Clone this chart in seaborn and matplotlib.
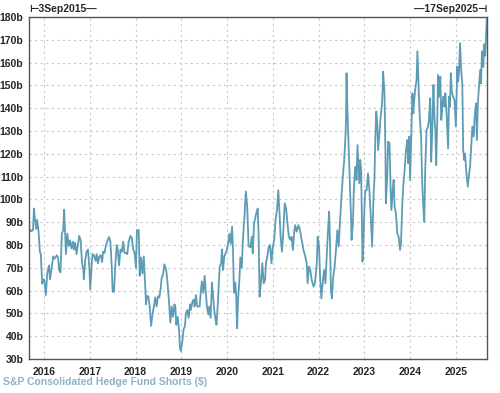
import numpy as np
import pandas as pd
import matplotlib
matplotlib.use("Agg")
import matplotlib.pyplot as plt
import seaborn as sns

# decimal-year positions and values (billions $)
years = [
    2015.672, 2015.72, 2015.76, 2015.78, 2015.80, 2015.83, 2015.85, 2015.88, 2015.91, 2015.93,
    2015.96, 2015.99, 2016.01, 2016.04, 2016.07, 2016.11, 2016.13, 2016.16, 2016.20, 2016.23,
    2016.28, 2016.31, 2016.33, 2016.36, 2016.39, 2016.42, 2016.44, 2016.46, 2016.48, 2016.51,
    2016.54, 2016.57, 2016.60, 2016.63, 2016.65, 2016.68, 2016.71, 2016.74, 2016.77, 2016.80,
    2016.83, 2016.86, 2016.87, 2016.90, 2016.93, 2016.96, 2016.99, 2017.01, 2017.04, 2017.06,
    2017.09, 2017.13, 2017.15, 2017.18, 2017.21, 2017.24, 2017.27, 2017.29, 2017.32, 2017.35,
    2017.38, 2017.42, 2017.45, 2017.48, 2017.50, 2017.53, 2017.56, 2017.59, 2017.61, 2017.64,
    2017.67, 2017.70, 2017.73, 2017.76, 2017.79, 2017.82, 2017.85, 2017.89, 2017.92, 2017.95,
    2017.98, 2018.01, 2018.03, 2018.07, 2018.09, 2018.12, 2018.15, 2018.18, 2018.20, 2018.23,
    2018.25, 2018.28, 2018.31, 2018.34, 2018.37, 2018.40, 2018.43, 2018.46, 2018.49, 2018.52,
    2018.55, 2018.57, 2018.60, 2018.63, 2018.67, 2018.69, 2018.71, 2018.73, 2018.76, 2018.79,
    2018.82, 2018.85, 2018.87, 2018.89, 2018.92, 2018.95, 2018.97, 2018.99, 2019.02, 2019.05,
    2019.08, 2019.10, 2019.13, 2019.16, 2019.19, 2019.21, 2019.24, 2019.27, 2019.29, 2019.32,
    2019.35, 2019.37, 2019.40, 2019.43, 2019.45, 2019.48, 2019.51, 2019.53, 2019.56, 2019.59,
    2019.61, 2019.64, 2019.67, 2019.69, 2019.72, 2019.75, 2019.77, 2019.80, 2019.82, 2019.84,
    2019.87, 2019.89, 2019.91, 2019.94, 2019.97, 2020.00, 2020.03, 2020.05, 2020.08, 2020.11,
    2020.13, 2020.15, 2020.18, 2020.20, 2020.22, 2020.24, 2020.27, 2020.29, 2020.32, 2020.35,
    2020.38, 2020.41, 2020.44, 2020.47, 2020.51, 2020.54, 2020.56, 2020.59, 2020.64, 2020.67,
    2020.69, 2020.71, 2020.74, 2020.77, 2020.80, 2020.83, 2020.85, 2020.88, 2020.91, 2020.94,
    2020.97, 2021.00, 2021.03, 2021.06, 2021.09, 2021.12, 2021.15, 2021.17, 2021.20, 2021.23,
    2021.26, 2021.29, 2021.32, 2021.35, 2021.38, 2021.41, 2021.44, 2021.47, 2021.49, 2021.52,
    2021.56, 2021.60, 2021.63, 2021.67, 2021.71, 2021.74, 2021.76, 2021.79, 2021.82, 2021.85,
    2021.89, 2021.92, 2021.96, 2021.98, 2022.01, 2022.03, 2022.06, 2022.09, 2022.12, 2022.15,
    2022.18, 2022.21, 2022.23, 2022.25, 2022.27, 2022.29, 2022.32, 2022.35, 2022.38, 2022.41,
    2022.44, 2022.47, 2022.50, 2022.53, 2022.56, 2022.59, 2022.60, 2022.61, 2022.63, 2022.65,
    2022.67, 2022.69, 2022.71, 2022.72, 2022.75, 2022.77, 2022.80, 2022.83, 2022.85, 2022.87,
    2022.89, 2022.91, 2022.93, 2022.96, 2022.98, 2023.00, 2023.02, 2023.05, 2023.08, 2023.11,
    2023.14, 2023.17, 2023.20, 2023.22, 2023.24, 2023.26, 2023.28, 2023.30, 2023.33, 2023.35,
    2023.38, 2023.40, 2023.41, 2023.44, 2023.46, 2023.47, 2023.50, 2023.52, 2023.55, 2023.57,
    2023.59, 2023.62, 2023.64, 2023.66, 2023.69, 2023.72, 2023.75, 2023.78, 2023.80, 2023.83,
    2023.85, 2023.88, 2023.91, 2023.94, 2023.96, 2023.98, 2024.00, 2024.03, 2024.05, 2024.07,
    2024.09, 2024.11, 2024.14, 2024.16, 2024.19, 2024.21, 2024.24, 2024.26, 2024.28, 2024.31,
    2024.33, 2024.36, 2024.39, 2024.41, 2024.44, 2024.46, 2024.48, 2024.51, 2024.53, 2024.55,
    2024.57, 2024.59, 2024.61, 2024.64, 2024.66, 2024.68, 2024.70, 2024.72, 2024.75, 2024.77,
    2024.80, 2024.83, 2024.85, 2024.87, 2024.89, 2024.91, 2024.94, 2024.97, 2025.00, 2025.03,
    2025.05, 2025.07, 2025.09, 2025.12, 2025.14, 2025.16, 2025.18, 2025.20, 2025.23, 2025.26,
    2025.29, 2025.31, 2025.34, 2025.36, 2025.39, 2025.41, 2025.44, 2025.46, 2025.48, 2025.51,
    2025.53, 2025.55, 2025.57, 2025.60, 2025.62, 2025.64, 2025.66, 2025.68,
]
shorts_bn = [
    87.5, 86, 86.5, 96, 92, 87, 91, 86, 77, 76,
    63, 65, 64, 58, 67.5, 71, 65, 69, 75, 74,
    75.5, 74, 69, 68, 85, 86.5, 95.5, 86, 76, 85,
    79.5, 82, 78.5, 81.5, 78, 81, 76, 80, 84, 82,
    72.5, 69, 65, 73.5, 77, 78, 70.5, 60.5, 70.5, 76,
    75.5, 73, 76, 72, 75, 75.5, 72.5, 77, 76.5, 79.5,
    81.5, 83.5, 81.5, 70.5, 59.5, 59.5, 72, 80, 78, 71,
    78, 77, 81.5, 76.5, 76.5, 76, 81.5, 84, 83, 78,
    76.5, 70, 86.5, 86.5, 66.5, 74.5, 67.5, 75, 66.5, 54,
    57.5, 57.5, 53, 44.5, 49.5, 53, 57, 53, 57.5, 57,
    61, 65.5, 67, 71.5, 69, 65.5, 60.5, 55.5, 46, 53,
    48.5, 54, 53, 45, 48.5, 43, 35, 33.5, 37.5, 43,
    44.5, 50, 51.5, 48, 54, 51.5, 55, 56, 53, 58,
    53, 53, 53, 60.5, 64, 59, 66.5, 60.5, 53, 49.5,
    53, 48, 63.5, 59, 51.5, 47, 45, 55, 63.5, 70.5,
    72, 78, 69, 75, 76.5, 78, 81.5, 85, 80.5, 88,
    78, 59, 63.5, 57.5, 43.5, 56, 65, 74.5, 70, 83.5,
    92.5, 103.5, 97, 79.5, 79, 83.6, 76.3, 89.5, 94, 96,
    83.6, 57.3, 63.2, 72, 63.2, 64.6, 72, 74.9, 79.3, 80,
    72, 79.3, 82.2, 91, 95.3, 104, 92.4, 83.6, 77, 86.5,
    98.2, 96, 89.5, 83.6, 82.2, 83.6, 77.8, 86.5, 88.7, 85.8,
    88.7, 85.8, 82.2, 77.8, 74.9, 72, 63.2, 70.5, 69, 64.6,
    61.7, 63.2, 72, 83.6, 79.3, 67.5, 56.6, 63.2, 69, 63.2,
    76.3, 88, 94.6, 80.7, 60.2, 56.6, 66, 70.5, 77.8, 86.5,
    79.3, 91, 101.2, 110, 117.3, 129, 136.3, 155.3, 139.2, 127.5,
    115.8, 104, 91, 82.2, 89.5, 104, 114.3, 108.5, 123.8, 115.8,
    107, 117.3, 112.9, 72.7, 82.2, 95.3, 104, 104, 111.4, 104,
    92.4, 79.3, 101.2, 108.5, 127.5, 138.5, 134, 121.6, 129, 134.8,
    140.6, 148, 156, 146.5, 121.6, 98.2, 110, 125.3, 124.6, 107,
    95.3, 104, 108.5, 96.8, 93.9, 85, 83.6, 77.8, 80.7, 98.2,
    105.6, 112.9, 121.6, 126, 115.8, 127.5, 108.5, 131.9, 146.5, 137.7,
    143.6, 148, 152.3, 165, 146.5, 136.3, 127.5, 110, 99.7, 90.2,
    112.9, 130.4, 131.9, 134.8, 144.3, 116.5, 127.5, 150.2, 136.3, 130.4,
    115, 131.9, 154.5, 145, 153.8, 134.8, 139.2, 145, 140.6, 146.5,
    136.3, 122.4, 145, 140.6, 155.3, 147.2, 145, 143.6, 131.9, 158.2,
    151.6, 156.7, 168.5, 155.3, 150.9, 121.6, 117.3, 120.1, 111.4, 105.6,
    111.4, 114.3, 124.6, 131.9, 127.5, 136.3, 142.1, 126, 142.1, 150.9,
    156.7, 150.9, 165, 158, 168, 163, 172, 181,
]
year_ticks = [2016, 2017, 2018, 2019, 2020, 2021, 2022, 2023, 2024, 2025]
value_ticks = [30, 40, 50, 60, 70, 80, 90, 100, 110, 120, 130, 140, 150, 160, 170, 180]
start_label = "⊢3Sep2015—"
end_label = "—17Sep2025⊣"
series_label = "S&P Consolidated Hedge Fund Shorts ($)"

sns.set_style("white")
plt.rcParams["font.family"] = ["Liberation Sans", "DejaVu Sans"]

df = pd.DataFrame({"year": years, "value": shorts_bn})

fig = plt.figure(figsize=(5.0, 3.93), dpi=100)
ax = fig.add_axes([0.058, 0.0865, 0.916, 0.8705])

sns.lineplot(data=df, x="year", y="value", ax=ax, color="#5e9cb6", linewidth=1.3)

ax.set_xlim(2015.672, 2025.68)
ax.set_ylim(30, 180)
ax.set_xticks(year_ticks)
ax.set_xticklabels([str(y) for y in year_ticks], fontweight="bold", fontsize=7.5)
ax.set_yticks(value_ticks)
ax.set_yticklabels([f"{v}b" for v in value_ticks], fontweight="bold", fontsize=7.5)
ax.set_xlabel("")
ax.set_ylabel("")

ax.grid(True, linestyle=(0, (2, 3)), color="#c8c8c8", linewidth=0.8)
ax.tick_params(axis="y", length=3, width=0.8, color="#333333", pad=1)
ax.tick_params(axis="x", length=0, pad=6)
for s in ax.spines.values():
    s.set_color("#555555")
    s.set_linewidth(1.0)

fig.text(0.058, 0.978, start_label, fontsize=7.5, fontweight="bold", ha="left", va="center",
         family=["Liberation Sans", "DejaVu Sans"])
fig.text(0.974, 0.978, end_label, fontsize=7.5, fontweight="bold", ha="right", va="center",
         family=["Liberation Sans", "DejaVu Sans"])
fig.text(0.006, 0.028, series_label, fontsize=7.5, fontweight="bold", color="#8db3c7",
         ha="left", va="center")

fig.savefig("out.png", dpi=100)
